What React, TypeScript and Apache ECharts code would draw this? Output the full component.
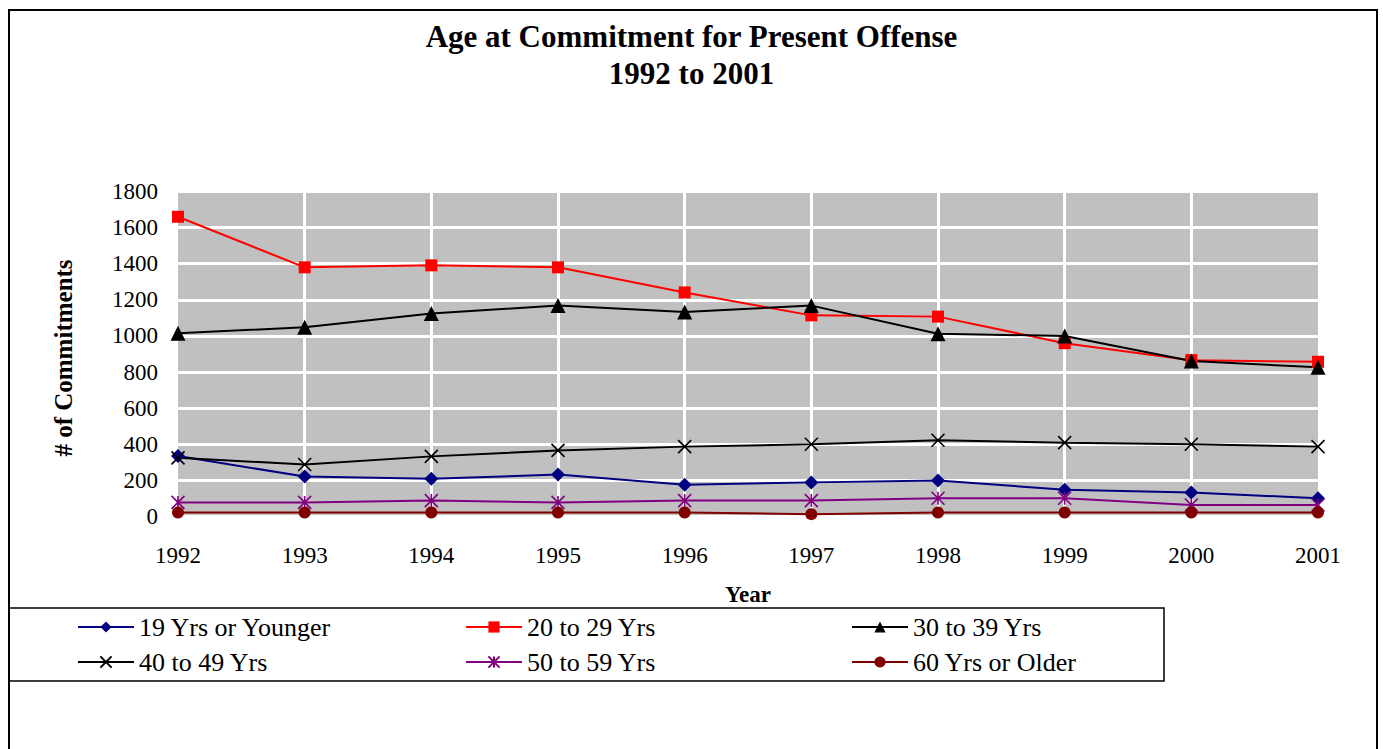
import React, { useEffect, useRef } from "react";
import * as echarts from "echarts";

const years = ["1992", "1993", "1994", "1995", "1996", "1997", "1998", "1999", "2000", "2001"];
const age19Younger = [335, 221, 209, 232, 176, 189, 200, 148, 133, 101];
const age20to29 = [1660, 1380, 1391, 1380, 1241, 1114, 1107, 960, 866, 857];
const age30to39 = [1015, 1048, 1124, 1168, 1133, 1168, 1012, 1000, 861, 826];
const age40to49 = [325, 288, 333, 366, 387, 400, 422, 409, 400, 387];
const age50to59 = [78, 78, 88, 78, 88, 88, 101, 101, 64, 64];
const age60Older = [22, 22, 22, 22, 22, 13, 22, 22, 22, 22];
const yTicks = { min: 0, max: 1800, interval: 200 };

const FONT = "Liberation Serif";
const X_PATH = "path://M0,0L10,10M10,0L0,10";
const STAR_PATH = "path://M5,0L5,10M0,0L10,10M10,0L0,10";

export default function App() {
  const ref = useRef<HTMLDivElement>(null);
  useEffect(() => {
    if (!ref.current) return;
    const chart = echarts.init(ref.current, null, { renderer: "svg" });
    const mk = (name: string, data: number[], color: string, symbol: string, size: number, stroke = false) => ({
      name,
      type: "line",
      data,
      symbol,
      symbolSize: size,
      showSymbol: true,
      lineStyle: { color, width: 2 },
      itemStyle: stroke
        ? { color, borderColor: color, borderWidth: 1.6 }
        : { color, borderWidth: 0 },
      emphasis: { disabled: true },
      z: 3,
    });
    const legendCommon = {
      orient: "vertical",
      top: 614,
      itemWidth: 56,
      itemHeight: 14,
      itemGap: 9,
      padding: 0,
      textStyle: { fontFamily: FONT, fontSize: 26, color: "#000", lineHeight: 26 },
    };
    chart.setOption({
      animation: false,
      backgroundColor: "#fff",
      textStyle: { fontFamily: FONT },
      title: {
        text: "Age at Commitment for Present Offense\n1992 to 2001",
        left: "center",
        top: 18,
        padding: 0,
        textStyle: { fontFamily: FONT, fontSize: 31, fontWeight: "bold", color: "#000", lineHeight: 37 },
      },
      grid: {
        left: 178,
        right: 65,
        top: 191.5,
        bottom: 232.5,
        show: true,
        backgroundColor: "#C0C0C0",
        borderWidth: 0,
      },
      legend: [
        { ...legendCommon, left: 77, data: ["19 Yrs or Younger", "40 to 49 Yrs"] },
        { ...legendCommon, left: 465, data: ["20 to 29 Yrs", "50 to 59 Yrs"] },
        { ...legendCommon, left: 851, data: ["30 to 39 Yrs", "60 Yrs or Older"] },
      ],
      xAxis: {
        type: "category",
        data: years,
        boundaryGap: false,
        name: "Year",
        nameLocation: "middle",
        nameGap: 66,
        nameTextStyle: { fontFamily: FONT, fontSize: 23, fontWeight: "bold", color: "#000" },
        axisLine: { show: false },
        axisTick: { show: false },
        axisLabel: { fontFamily: FONT, fontSize: 23, color: "#000", margin: 27 },
        splitLine: {
          show: true,
          interval: (i: number) => i > 0 && i < years.length - 1,
          lineStyle: { color: "#fff", width: 3 },
        },
      },
      yAxis: {
        type: "value",
        min: yTicks.min,
        max: yTicks.max,
        interval: yTicks.interval,
        axisLine: { show: false },
        axisTick: { show: false },
        axisLabel: {
          fontFamily: FONT,
          fontSize: 23,
          color: "#000",
          margin: 20,
          formatter: (v: number) => String(v),
        },
        splitLine: { show: true, lineStyle: { color: "#fff", width: 3 } },
      },
      graphic: [
        {
          type: "rect",
          shape: { x: 9, y: 10, width: 1368, height: 760 },
          style: { fill: "none", stroke: "#000", lineWidth: 2 },
          silent: true,
          z: 0,
        },
        {
          type: "rect",
          shape: { x: 9, y: 608, width: 1155, height: 73 },
          style: { fill: "none", stroke: "#000", lineWidth: 1.5 },
          silent: true,
          z: 0,
        },
        {
          type: "text",
          x: 63,
          y: 358,
          rotation: Math.PI / 2,
          style: {
            text: "# of Commitments",
            font: `bold 25px ${FONT}`,
            fill: "#000",
            align: "center",
            verticalAlign: "middle",
          },
          silent: true,
        },
      ],
      series: [
        mk("19 Yrs or Younger", age19Younger, "#000080", "diamond", 14),
        mk("20 to 29 Yrs", age20to29, "#FF0000", "rect", 12),
        mk("30 to 39 Yrs", age30to39, "#000000", "triangle", 15),
        mk("40 to 49 Yrs", age40to49, "#000000", X_PATH, 13, true),
        mk("50 to 59 Yrs", age50to59, "#800080", STAR_PATH, 13, true),
        mk("60 Yrs or Older", age60Older, "#800000", "circle", 12),
      ],
    });
    return () => chart.dispose();
  }, []);
  return (
    <div
      ref={ref}
      style={{ position: "absolute", left: 0, top: 0, width: 1383, height: 749 }}
    />
  );
}
